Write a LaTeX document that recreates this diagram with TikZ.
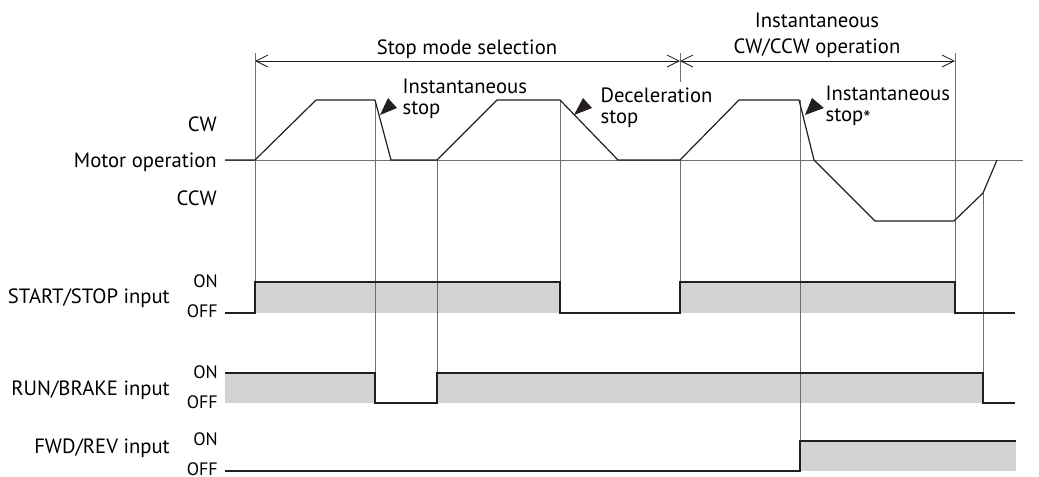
\documentclass[tikz,border=0pt]{standalone}
\usepackage{fontspec}
\setmainfont{PT Sans}
\usetikzlibrary{arrows.meta}

\definecolor{ink}{RGB}{35,31,32}
\definecolor{guidegray}{RGB}{110,111,113}
\definecolor{bandgray}{RGB}{209,211,212}

\begin{document}
\begin{tikzpicture}[
    x=0.75pt, y=-0.75pt,
    label/.style={font=\fontsize{15.5}{15.75}\selectfont, anchor=base east, inner sep=0pt},
    level/.style={font=\fontsize{13.5}{15}\selectfont, anchor=base east, inner sep=0pt},
    note/.style={font=\fontsize{15.5}{15.75}\selectfont, align=left, anchor=base west,
        inner sep=1pt},
    title/.style={font=\fontsize{15.5}{19.5}\selectfont, align=center, anchor=base, inner sep=0pt},
    guide/.style={guidegray, line width=0.6pt},
    profile/.style={ink, line width=0.9pt, line join=round},
    signal/.style={ink, line width=0.9pt},
    band/.style={fill=bandgray},
    dim/.style={{Straight Barb[length=9pt,width=9pt]}-{Straight Barb[length=9pt,width=9pt]},
        ink, line width=0.6pt},
    pointer/.style={fill=ink},
]
\useasboundingbox (0,0) rectangle (1039,476);

% Bande ON
\fill[band] (255,282) rectangle (560,313);
\fill[band] (680,282) rectangle (955,313);
\fill[band] (225,373) rectangle (375,403);
\fill[band] (437,373) rectangle (983,403);
\fill[band] (800,441) rectangle (1016,471);

% Asse e linee guida
\draw[guide] (225,160) -- (1023,160);
\draw[guide] (255,53) -- (255,313);
\draw[guide] (375,100) -- (375,403);
\draw[guide] (437,160) -- (437,403);
\draw[guide] (560,100) -- (560,313);
\draw[guide] (680,53) -- (680,82);
\draw[guide] (680,160) -- (680,313);
\draw[guide] (800,100) -- (800,471);
\draw[guide] (955,53) -- (955,313);
\draw[guide] (983,193) -- (983,403);

% Quote
\draw[dim] (255,61) -- (680,61);
\draw[dim] (680,61) -- (955,61);
\node[title] (selection) at (467,54) {Stop mode selection};
\node[title] (cwccw) at (817,53) {Instantaneous\\CW/CCW operation};

%% Profilo motore
\draw[profile] (225,160) -- (255,160) -- (316,100) -- (375,100) -- (391,160)
    -- (437,160) -- (497,100) -- (560,100) -- (618,160) -- (680,160)
    -- (739,100) -- (799,100) -- (814,160) -- (875,221) -- (954,221)
    -- (983,193) -- (997,160);

%% Segnali
\draw[signal] (225,313) -- (255,313) -- (255,282) -- (560,282) -- (560,313)
    -- (680,313) -- (680,282) -- (955,282) -- (955,313) -- (1015,313);
\draw[signal] (225,373) -- (375,373) -- (375,403) -- (437,403) -- (437,373)
    -- (983,373) -- (983,403) -- (1015,403);
\draw[signal] (225,471) -- (800,471) -- (800,441) -- (1016,441);

%% Note di arresto
\node[note] (instA) at (401,114) {Instantaneous\\stop};
\node[note] (decel) at (599,123) {Deceleration\\stop};
\node[note] (instB) at (824,121) {Instantaneous\\stop\raisebox{-0.45ex}{*}};
\coordinate (tipA) at (380,115);
\coordinate (tipB) at (574,115);
\coordinate (tipC) at (805,115);
\fill[pointer] (tipA) -- ++(8,-17) -- ++(9,10) -- cycle;
\fill[pointer] (tipB) -- ++(9,-17) -- ++(9,10) -- cycle;
\fill[pointer] (tipC) -- ++(7,-17) -- ++(12,10) -- cycle;

%% Etichette
\node[label] (cw)    at (217,131) {CW};
\node[label] (motor) at (217,167) {Motor operation};
\node[label] (ccw)   at (217,205) {CCW};

\node[label] (start) at (170,303) {START/STOP input};
\node[level] (startOn)  at (218,287) {ON};
\node[level] (startOff) at (218,317) {OFF};

\node[label] (run) at (170,395) {RUN/BRAKE input};
\node[level] (runOn)  at (218,378) {ON};
\node[level] (runOff) at (218,408) {OFF};

\node[label] (fwd) at (170,453) {FWD/REV input};
\node[level] (fwdOn)  at (218,445) {ON};
\node[level] (fwdOff) at (218,475) {OFF};

\end{tikzpicture}
\end{document}
